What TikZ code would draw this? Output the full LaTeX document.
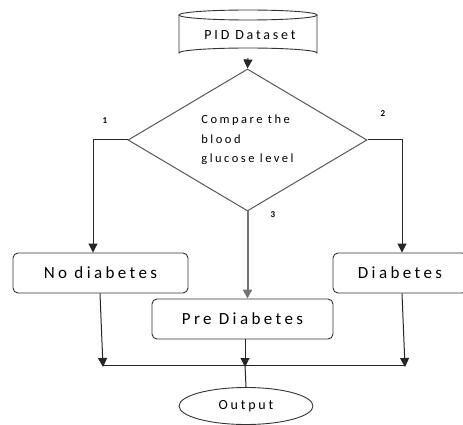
\documentclass[tikz,border=0pt]{standalone}
\usepackage{fontspec}
\setmainfont{Carlito}[LetterSpace=20]
\usetikzlibrary{shapes.geometric,arrows.meta}
\begin{document}
\begin{tikzpicture}[x=1pt,y=-1pt,
  line/.style={draw=black!85, line width=1pt},
  arr/.style={line, -{Triangle[width=9pt,length=9pt]}},
  box/.style={draw=black!80, line width=0.9pt, rounded corners=5pt, minimum height=40pt, inner sep=0pt, font=\fontsize{17}{20}\selectfont},
  lab/.style={font=\fontsize{9}{10}\selectfont\bfseries, inner sep=0pt}]
\useasboundingbox[fill=white] (0,0) rectangle (463,425);
% cylinder
\draw[line width=0.9pt, draw=black!80] (179,15) -- (179,53) arc[start angle=180,end angle=360,x radius=69,y radius=5] -- (317,15);
\draw[line width=0.9pt, draw=black!80] (248,15) ellipse[x radius=69,y radius=5];
\node[font=\fontsize{14}{16}\selectfont, inner sep=0pt] (pid) at (250,35) {PID Dataset};
\coordinate (cylb) at (248,58);
% diamond
\node[diamond, draw=black!65, line width=1pt, minimum width=239pt, minimum height=124pt, inner sep=0pt,
  align=left, font=\fontsize{12.5}{19.5}\selectfont] (cmp) at (247.5,140)
  {Compare the\\blood\\glucose level};
% boxes
\node[box, minimum width=175pt] (no) at (100.5,273) {No diabetes};
\node[box, minimum width=134pt] (dia) at (400,273) {Diabetes};
\node[box, minimum width=181pt] (pre) at (242.5,319) {Pre Diabetes};
\node[ellipse, draw=black!80, line width=0.9pt, minimum width=134pt, minimum height=37pt, inner sep=0pt,
  font=\fontsize{14}{16}\selectfont] (out) at (246,406) {Output};
% labels
\node[lab] (l1) at (105,121) {1};
\node[lab] (l2) at (383,114) {2};
\node[lab] (l3) at (273,215) {3};
% connectors
\draw[arr] (cylb) -- (cmp.north);
\coordinate (lc) at (93,140);
\coordinate (rc) at (402,140);
\draw[arr] (cmp.west) -- (lc) -- (lc |- no.north);
\draw[arr] (cmp.east) -- (rc) -- (rc |- dia.north);
\draw[arr, draw=black!55, line width=2pt] (cmp.south) -- (cmp.south |- pre.north);
\coordinate (hl) at (103,365);
\coordinate (hr) at (405,365);
\coordinate (hm) at (245,365);
\draw[line] (hl) -- (hr);
\draw[arr] ([xshift=-3pt]no.south -| hl) -- ([yshift=-2pt]hl);
\draw[arr] ([xshift=-3pt]dia.south -| hr) -- ([yshift=-2pt]hr);
\draw[arr] (pre.south -| hm) -- ([yshift=-2pt]hm);
\draw[line] (hm) -- (out.north);
\end{tikzpicture}
\end{document}
